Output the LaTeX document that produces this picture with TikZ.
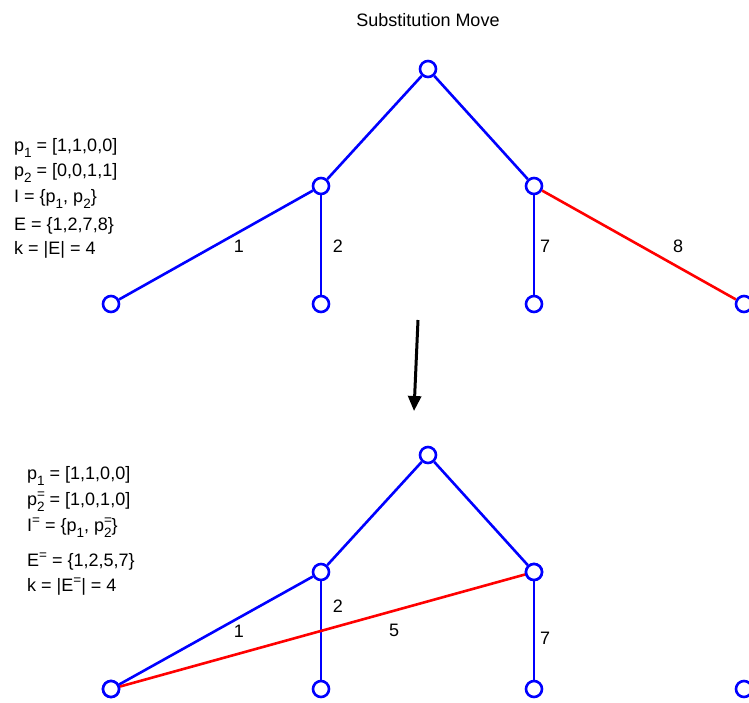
\documentclass[tikz,border=0pt]{standalone}
\usepackage{fontspec}
\setmainfont{Liberation Sans}
\usetikzlibrary{arrows.meta}

\newcommand{\lowtxt}[1]{\raisebox{-0.65ex}{\fontsize{13.5}{13.5}\selectfont #1}}
\newcommand{\hightxt}[1]{\raisebox{0.7ex}{\fontsize{13.5}{13.5}\selectfont #1}}
\newcommand{\lowhigh}[2]{\rlap{\hightxt{#2}}\lowtxt{#1}}

\begin{document}
\begin{tikzpicture}[
  x=1pt, y=-1pt,
  vert/.style={circle, draw=blue, fill=white, line width=2.6pt, minimum size=16pt, inner sep=0pt},
  edg/.style={blue, line width=2.6pt},
  sub/.style={red, line width=2.6pt},
  txt/.style={anchor=base west, inner sep=0pt, font=\fontsize{18}{22}\selectfont},
  lab/.style={inner sep=0pt, font=\fontsize{18}{22}\selectfont},
  arr/.style={-{Triangle[length=15pt, width=13pt]}, line width=3pt},
]
  \useasboundingbox (0,0) rectangle (749,702);

  \node[lab] (title) at (428,20) {Substitution Move};

  % Before the move
  \node[vert] (r) at (428,69) {};
  \node[vert] (u) at (321,186) {};
  \node[vert] (v) at (534,186) {};
  \node[vert] (a) at (111,304) {};
  \node[vert] (b) at (321,304) {};
  \node[vert] (c) at (534,304) {};
  \node[vert] (d) at (744,304) {};

  \draw[edg] (r) -- (u);
  \draw[edg] (r) -- (v);
  \draw[edg] (u) -- (a);
  \draw[edg] (u) -- (b);
  \draw[edg] (v) -- (c);
  \draw[sub] (v) -- (d);

  \node[lab] (l1) at (239,246) {1};
  \node[lab] (l2) at (338,246) {2};
  \node[lab] (l7) at (545,246) {7};
  \node[lab] (l8) at (678,246) {8};

  \node[txt] (t1) at (14,151) {p\lowtxt{1} = [1,1,0,0]};
  \node[txt] (t2) at (14,176) {p\lowtxt{2} = [0,0,1,1]};
  \node[txt] (t3) at (14,202) {I = \{p\lowtxt{1}, p\lowtxt{2}\}};
  \node[txt] (t4) at (14,230) {E = \{1,2,7,8\}};
  \node[txt] (t5) at (14,254) {k = |E| = 4};

  % Move
  \coordinate (m1) at (418,320);
  \coordinate (m2) at (414,411);
  \draw[arr] (m1) -- (m2);

  % After the move
  \node[vert] (rr) at (428,455) {};
  \node[vert] (uu) at (321,572) {};
  \node[vert] (vv) at (534,572) {};
  \node[vert] (aa) at (111,689) {};
  \node[vert] (bb) at (321,689) {};
  \node[vert] (cc) at (534,689) {};
  \node[vert] (dd) at (744,689) {};

  \draw[edg] (rr) -- (uu);
  \draw[edg] (rr) -- (vv);
  \draw[edg] (uu) -- (aa);
  \draw[edg] (uu) -- (bb);
  \draw[edg] (vv) -- (cc);
  \draw[sub] (aa) -- (vv);
  \node[vert] at (aa) {};
  \node[vert] at (vv) {};

  \node[lab] (ll1) at (239,631) {1};
  \node[lab] (ll2) at (338,606) {2};
  \node[lab] (ll5) at (394,630) {5};
  \node[lab] (ll7) at (545,638) {7};

  \node[txt] (b1) at (27,479) {p\lowtxt{1} = [1,1,0,0]};
  \node[txt] (b2) at (27,505) {p\lowhigh{2}{=} = [1,0,1,0]};
  \node[txt] (b3) at (27,531) {I\hightxt{=} = \{p\lowtxt{1}, p\lowhigh{2}{=}\}};
  \node[txt] (b4) at (27,566) {E\hightxt{=} = \{1,2,5,7\}};
  \node[txt] (b5) at (27,591) {k = |E\hightxt{=}| = 4};
\end{tikzpicture}
\end{document}
